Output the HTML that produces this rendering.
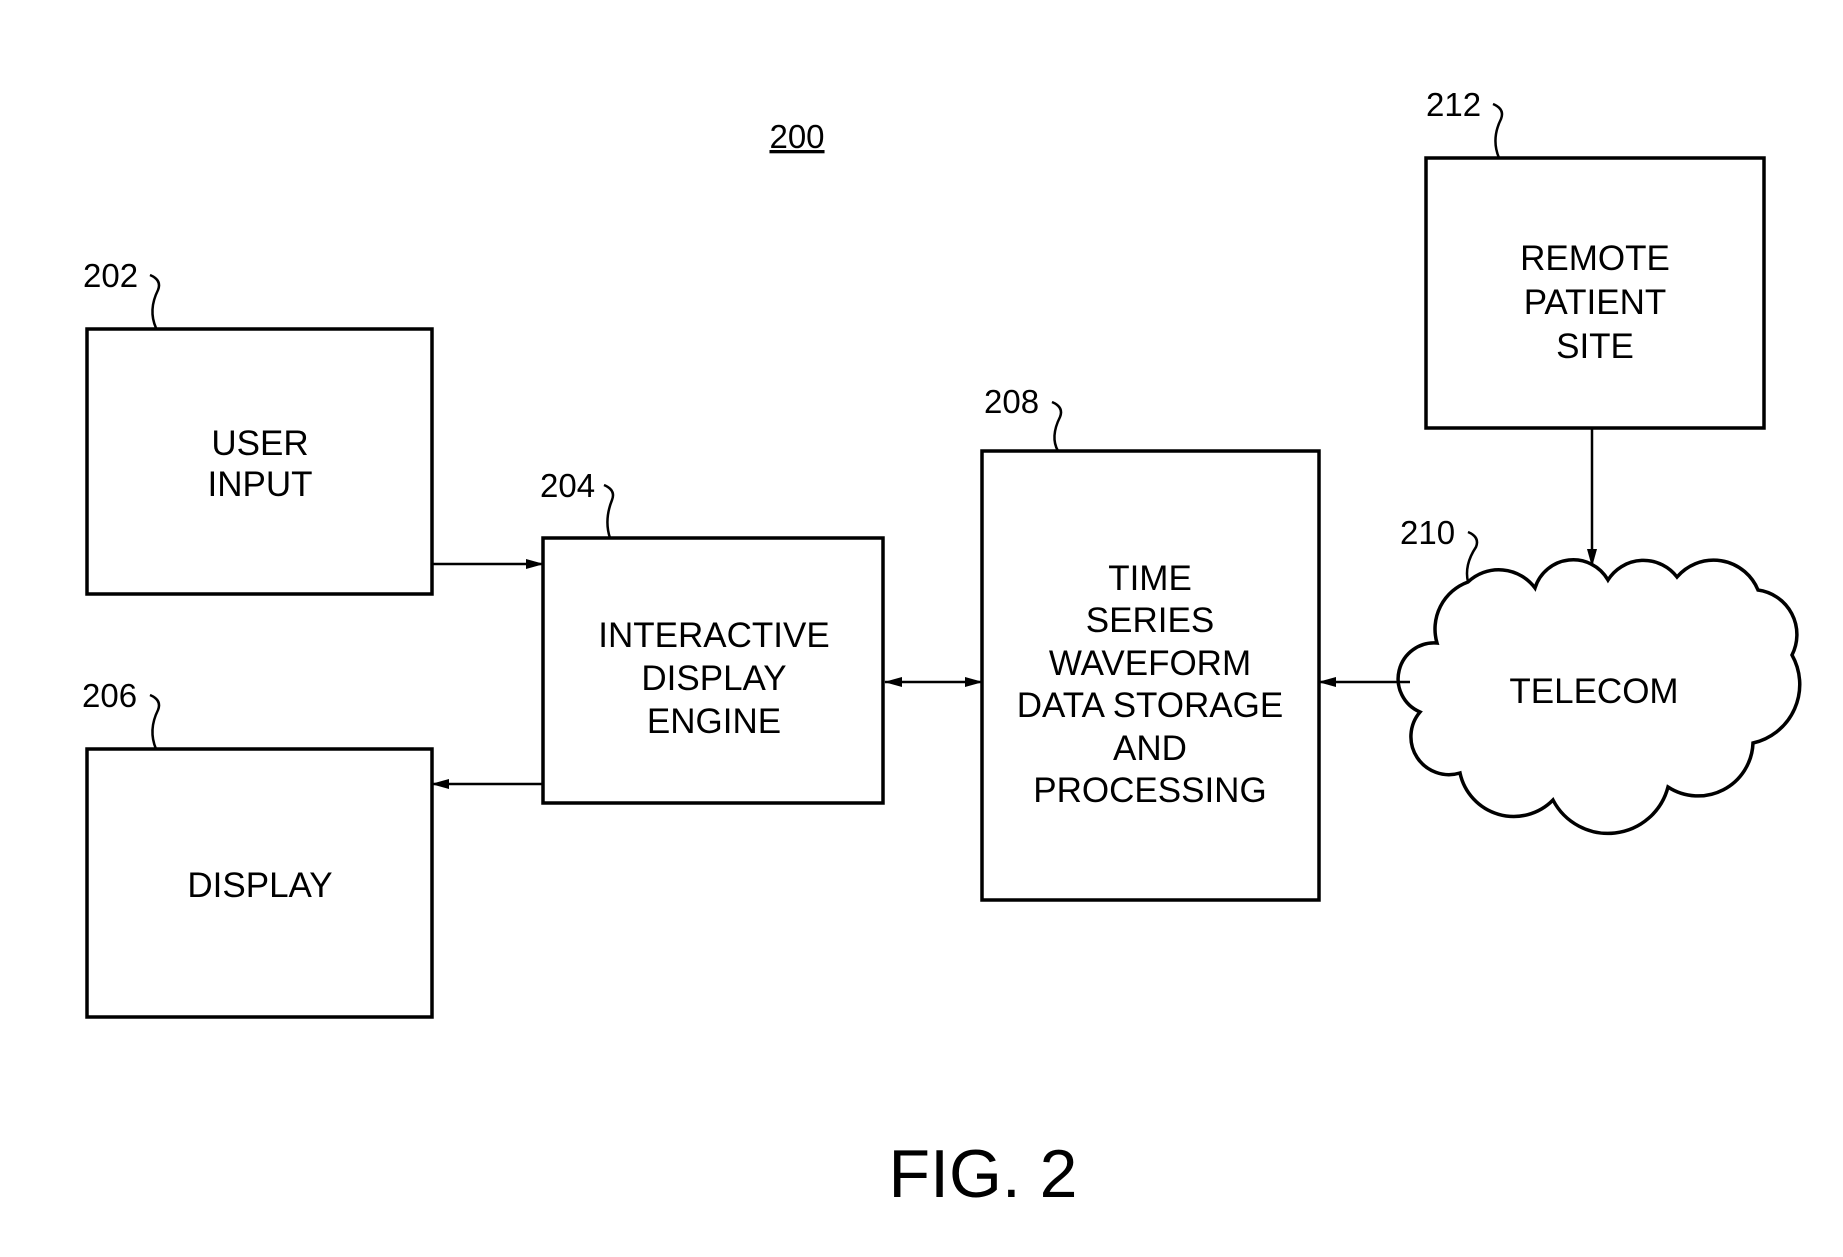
<!DOCTYPE html>
<html><head><meta charset="utf-8"><style>html,body{margin:0;padding:0;background:#fff}</style></head>
<body>
<svg width="1843" height="1252" viewBox="0 0 1843 1252" xmlns="http://www.w3.org/2000/svg" font-family="Liberation Sans, Arial, sans-serif" fill="#000">
<defs>
<marker id="ah" markerWidth="18" markerHeight="10" refX="17" refY="5" orient="auto" markerUnits="userSpaceOnUse">
<path d="M0,0 L18,5 L0,10 z" fill="#000"/></marker>
<marker id="ahs" markerWidth="18" markerHeight="10" refX="1" refY="5" orient="auto" markerUnits="userSpaceOnUse">
<path d="M18,0 L0,5 L18,10 z" fill="#000"/></marker>
</defs>
<g fill="none" stroke="#000" stroke-width="3.5">
<rect x="87" y="329" width="345" height="265"/>
<rect x="87" y="749" width="345" height="268"/>
<rect x="543" y="538" width="340" height="265"/>
<rect x="982" y="451" width="337" height="449"/>
<rect x="1426" y="158" width="338" height="270"/>
<path d="M1468,582 A45,45 0 0 1 1535,588 A40,40 0 0 1 1608,580 A42,42 0 0 1 1677,577 A48,48 0 0 1 1758,590 A45,45 0 0 1 1792,655 A60,60 0 0 1 1753,743 A55,55 0 0 1 1668,787 A62,62 0 0 1 1553,800 A55,55 0 0 1 1460,773 A38,38 0 0 1 1420,712 A36,36 0 0 1 1437,643 A50,50 0 0 1 1468,582 Z"/>
<g stroke-width="2.5">
<line x1="432" y1="564" x2="543" y2="564" marker-end="url(#ah)"/>
<line x1="543" y1="784" x2="432" y2="784" marker-end="url(#ah)"/>
<line x1="885" y1="682" x2="982" y2="682" marker-end="url(#ah)" marker-start="url(#ahs)"/>
<line x1="1410" y1="682" x2="1319" y2="682" marker-end="url(#ah)"/>
<line x1="1592" y1="428" x2="1592" y2="566" marker-end="url(#ah)"/>
<path d="M150,275 Q162,280 158,290 Q148,310 156,328"/>
<path d="M604,485 Q616,490 612,500 Q604,520 610,538"/>
<path d="M150,695 Q162,700 158,710 Q148,730 156,749"/>
<path d="M1052,402 Q1064,407 1060,417 Q1050,437 1058,451"/>
<path d="M1493,104 Q1505,109 1501,119 Q1491,139 1499,158"/>
<path d="M1468,532 Q1480,537 1476,547 Q1464,565 1468,582"/>
</g>
</g>
<g font-size="33">
<text x="83" y="287">202</text>
<text x="540" y="497">204</text>
<text x="82" y="707">206</text>
<text x="984" y="413">208</text>
<text x="1400" y="544">210</text>
<text x="1426" y="116">212</text>
</g>
<text x="797" y="148" font-size="33" text-anchor="middle" text-decoration="underline">200</text>
<g font-size="35" text-anchor="middle">
<text x="260" y="455">USER</text>
<text x="260" y="496">INPUT</text>
<text x="260" y="897">DISPLAY</text>
<text x="714" y="647">INTERACTIVE</text>
<text x="714" y="690">DISPLAY</text>
<text x="714" y="733">ENGINE</text>
<text x="1150" y="590">TIME</text>
<text x="1150" y="632">SERIES</text>
<text x="1150" y="675">WAVEFORM</text>
<text x="1150" y="717">DATA STORAGE</text>
<text x="1150" y="760">AND</text>
<text x="1150" y="802">PROCESSING</text>
<text x="1595" y="270">REMOTE</text>
<text x="1595" y="314">PATIENT</text>
<text x="1595" y="358">SITE</text>
<text x="1594" y="703">TELECOM</text>
</g>
<text x="983" y="1197" font-size="68" text-anchor="middle">FIG. 2</text>
</svg>
</body></html>
